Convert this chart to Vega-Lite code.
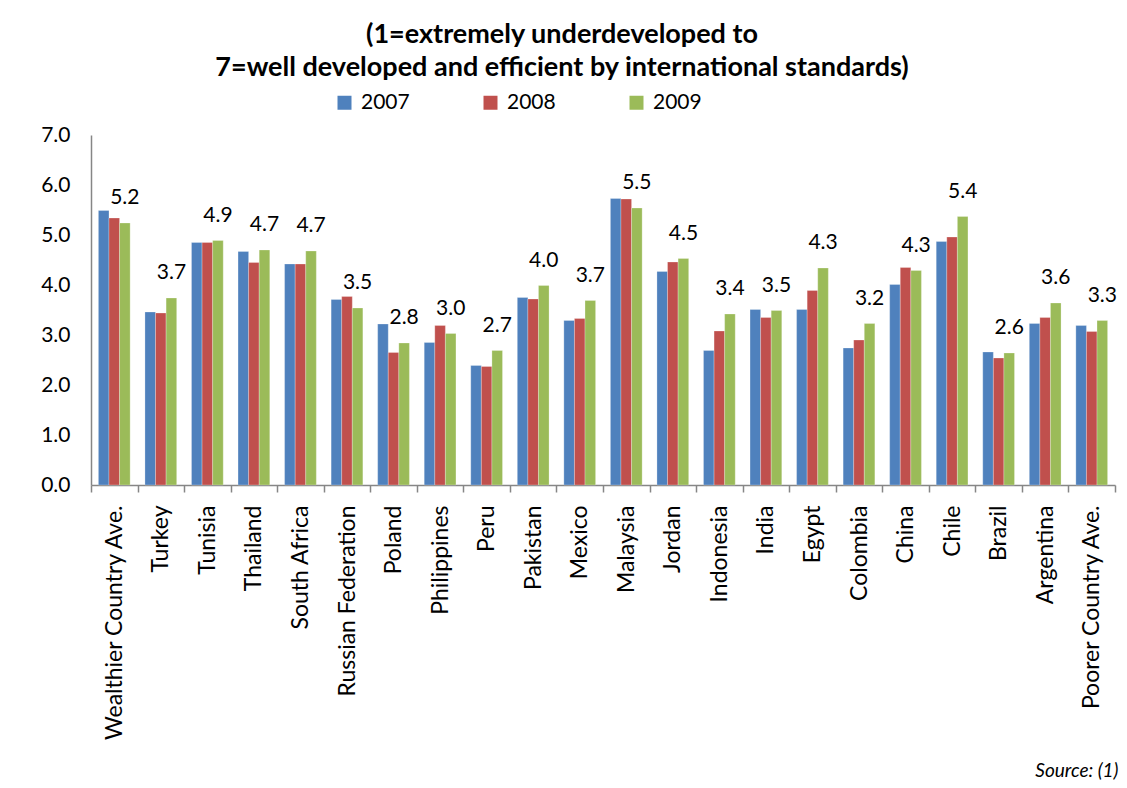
{
  "$schema": "https://vega.github.io/schema/vega-lite/v6.json",
  "autosize": {"type": "none"},
  "width": 1024,
  "height": 350,
  "padding": {"left": 91, "top": 135, "right": 12, "bottom": 303},
  "background": "white",
  "view": {"stroke": null},
  "title": {
    "text": ["(1=extremely underdeveloped  to", "7=well developed and efficient by international standards)"],
    "font": "Lato",
    "fontSize": 27,
    "fontWeight": "bold",
    "lineHeight": 33,
    "anchor": "middle",
    "dx": -41,
    "offset": 10,
    "color": "black"
  },
  "data": {
    "values": [
      {"country": "Wealthier Country Ave.", "year": "2007", "value": 5.49},
      {"country": "Wealthier Country Ave.", "year": "2008", "value": 5.34},
      {"country": "Wealthier Country Ave.", "year": "2009", "value": 5.24},
      {"country": "Turkey", "year": "2007", "value": 3.46},
      {"country": "Turkey", "year": "2008", "value": 3.44},
      {"country": "Turkey", "year": "2009", "value": 3.74},
      {"country": "Tunisia", "year": "2007", "value": 4.85},
      {"country": "Tunisia", "year": "2008", "value": 4.85},
      {"country": "Tunisia", "year": "2009", "value": 4.89},
      {"country": "Thailand", "year": "2007", "value": 4.67},
      {"country": "Thailand", "year": "2008", "value": 4.45},
      {"country": "Thailand", "year": "2009", "value": 4.70},
      {"country": "South Africa", "year": "2007", "value": 4.42},
      {"country": "South Africa", "year": "2008", "value": 4.42},
      {"country": "South Africa", "year": "2009", "value": 4.68},
      {"country": "Russian Federation", "year": "2007", "value": 3.71},
      {"country": "Russian Federation", "year": "2008", "value": 3.77},
      {"country": "Russian Federation", "year": "2009", "value": 3.54},
      {"country": "Poland", "year": "2007", "value": 3.22},
      {"country": "Poland", "year": "2008", "value": 2.65},
      {"country": "Poland", "year": "2009", "value": 2.84},
      {"country": "Philippines", "year": "2007", "value": 2.85},
      {"country": "Philippines", "year": "2008", "value": 3.19},
      {"country": "Philippines", "year": "2009", "value": 3.03},
      {"country": "Peru", "year": "2007", "value": 2.39},
      {"country": "Peru", "year": "2008", "value": 2.37},
      {"country": "Peru", "year": "2009", "value": 2.69},
      {"country": "Pakistan", "year": "2007", "value": 3.75},
      {"country": "Pakistan", "year": "2008", "value": 3.72},
      {"country": "Pakistan", "year": "2009", "value": 3.99},
      {"country": "Mexico", "year": "2007", "value": 3.29},
      {"country": "Mexico", "year": "2008", "value": 3.33},
      {"country": "Mexico", "year": "2009", "value": 3.69},
      {"country": "Malaysia", "year": "2007", "value": 5.73},
      {"country": "Malaysia", "year": "2008", "value": 5.72},
      {"country": "Malaysia", "year": "2009", "value": 5.54},
      {"country": "Jordan", "year": "2007", "value": 4.27},
      {"country": "Jordan", "year": "2008", "value": 4.46},
      {"country": "Jordan", "year": "2009", "value": 4.53},
      {"country": "Indonesia", "year": "2007", "value": 2.69},
      {"country": "Indonesia", "year": "2008", "value": 3.08},
      {"country": "Indonesia", "year": "2009", "value": 3.42},
      {"country": "India", "year": "2007", "value": 3.51},
      {"country": "India", "year": "2008", "value": 3.35},
      {"country": "India", "year": "2009", "value": 3.49},
      {"country": "Egypt", "year": "2007", "value": 3.51},
      {"country": "Egypt", "year": "2008", "value": 3.89},
      {"country": "Egypt", "year": "2009", "value": 4.34},
      {"country": "Colombia", "year": "2007", "value": 2.74},
      {"country": "Colombia", "year": "2008", "value": 2.90},
      {"country": "Colombia", "year": "2009", "value": 3.23},
      {"country": "China", "year": "2007", "value": 4.01},
      {"country": "China", "year": "2008", "value": 4.35},
      {"country": "China", "year": "2009", "value": 4.29},
      {"country": "Chile", "year": "2007", "value": 4.87},
      {"country": "Chile", "year": "2008", "value": 4.96},
      {"country": "Chile", "year": "2009", "value": 5.37},
      {"country": "Brazil", "year": "2007", "value": 2.66},
      {"country": "Brazil", "year": "2008", "value": 2.54},
      {"country": "Brazil", "year": "2009", "value": 2.64},
      {"country": "Argentina", "year": "2007", "value": 3.23},
      {"country": "Argentina", "year": "2008", "value": 3.35},
      {"country": "Argentina", "year": "2009", "value": 3.64},
      {"country": "Poorer Country Ave.", "year": "2007", "value": 3.19},
      {"country": "Poorer Country Ave.", "year": "2008", "value": 3.07},
      {"country": "Poorer Country Ave.", "year": "2009", "value": 3.29}
    ]
  },
  "encoding": {
    "x": {
      "field": "country",
      "type": "nominal",
      "sort": null,
      "scale": {"paddingInner": 0, "paddingOuter": 0},
      "axis": {
        "title": "Source:  (1)",
        "titleFont": "Lato",
        "titleFontSize": 19,
        "titleFontWeight": "normal",
        "titleFontStyle": "italic",
        "titleColor": "black",
        "titleAlign": "right",
        "titleAnchor": "end",
        "titleX": 1027,
        "titleY": 285,
        "titleBaseline": "middle",
        "labelAngle": -90,
        "labelAlign": "right",
        "labelBaseline": "middle",
        "labelFont": "Lato",
        "labelFontSize": 23,
        "labelColor": "black",
        "labelPadding": 13,
        "labelLimit": 400,
        "tickBand": "extent",
        "tickColor": "#868686",
        "tickSize": 7,
        "tickWidth": 1.5,
        "domainColor": "#868686",
        "domainWidth": 1.5,
        "labelOverlap": false
      }
    },
    "y": {
      "field": "value",
      "type": "quantitative",
      "scale": {"domain": [0, 7]},
      "axis": {
        "title": null,
        "values": [0, 1, 2, 3, 4, 5, 6, 7],
        "format": ".1f",
        "grid": false,
        "ticks": false,
        "labelFont": "Lato",
        "labelFontSize": 21,
        "labelColor": "black",
        "labelPadding": 21,
        "domainColor": "#868686",
        "domainWidth": 1.5
      }
    }
  },
  "layer": [
    {
      "mark": {"type": "bar", "stroke": "white", "strokeOpacity": 0.5, "strokeWidth": 0.5},
      "encoding": {
        "xOffset": {"field": "year", "type": "nominal", "scale": {"paddingInner": 0, "paddingOuter": 0.7}},
        "color": {
          "field": "year",
          "type": "nominal",
          "scale": {"domain": ["2007", "2008", "2009"], "range": ["#4F81BD", "#C0504D", "#9BBB59"]},
          "legend": {
            "title": null,
            "orient": "none",
            "direction": "horizontal",
            "legendX": 243,
            "legendY": -43,
            "symbolType": "square",
            "symbolSize": 196,
            "symbolStrokeWidth": 0,
            "symbolOpacity": 1,
            "labelFont": "Lato",
            "labelFontSize": 21,
            "labelColor": "black",
            "labelOffset": 6,
            "columnPadding": 70
          }
        }
      }
    },
    {
      "transform": [{"filter": "datum.year == '2009'"}],
      "mark": {"type": "text", "font": "Lato", "fontSize": 21, "color": "black", "baseline": "middle", "dy": -25},
      "encoding": {
        "xOffset": {"field": "year", "type": "nominal"},
        "text": {"field": "value", "type": "quantitative", "format": ".1f"}
      }
    }
  ]
}
